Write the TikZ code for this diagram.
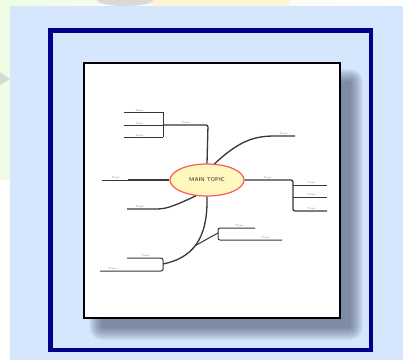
\documentclass[tikz,border=0pt]{standalone}
\usetikzlibrary{shapes.geometric}

\definecolor{paleblue}{RGB}{214,230,252}
\definecolor{palegreen}{RGB}{240,252,228}
\definecolor{paleyellow}{RGB}{255,244,215}
\definecolor{framenavy}{RGB}{0,0,140}
\definecolor{sheetshadow}{RGB}{60,75,100}
\definecolor{topicfill}{RGB}{255,248,190}
\definecolor{topicline}{RGB}{250,90,90}
\definecolor{topictext}{RGB}{90,90,60}
\definecolor{branchgrey}{RGB}{55,55,55}
\definecolor{labelgrey}{RGB}{120,120,120}

\tikzset{
  branch/.style={draw=branchgrey, line width=1.3pt, rounded corners=2pt},
  twig/.style={draw=branchgrey, line width=1pt},
  leaflabel/.style={font=\fontsize{2.6}{3}\selectfont, text=labelgrey, inner sep=0pt, anchor=south},
}

\begin{document}
\begin{tikzpicture}[x=1pt, y=-1pt]
  \useasboundingbox (0,0) rectangle (403,360);
  % page behind the panel
  \fill[white] (0,0) rectangle (403,360);
  \shade[left color=palegreen, right color=white] (0,0) rectangle (403,7);
  \fill[paleyellow] (150,0) rectangle (290,7);
  \fill[gray!30] (97,0) arc[start angle=180, end angle=360, x radius=28, y radius=-6] -- cycle;
  \fill[palegreen] (0,0) rectangle (10,180);
  \fill[gray!30] (0,72) -- (10,79) -- (0,85) -- cycle;
  % panel
  \fill[paleblue] (10,6) rectangle (403,360);
  \draw[framenavy, line width=4.5pt] (50.5,30.5) rectangle (371,350);
  % soft shadow under the sheet, built from stacked rounded layers
  \foreach \r in {0,1,...,13}
    \fill[sheetshadow, opacity=0.055, rounded corners=\r pt]
      (92-\r+10,72-\r+10) rectangle (351+\r-10+9,328+\r-10+9);
  % sheet
  \node[draw=black, line width=2pt, fill=white, minimum width=256pt, minimum height=255pt,
        inner sep=0pt] (sheet) at (212,190) {};

  % central topic
  \node[ellipse, draw=topicline, fill=topicfill, line width=1.2pt, minimum width=74pt, minimum height=32pt,
        inner sep=0pt, font=\fontsize{5.5}{5.5}\sffamily\bfseries\selectfont, text=topictext] (centre) at (207,180) {MAIN TOPIC};

  % junctions
  \coordinate (aTop) at (208,125);
  \coordinate (aJoin) at (163,125);
  \coordinate (bEnd) at (295,136);
  \coordinate (dJoin) at (293,180);
  \coordinate (fJoin) at (218,233);
  \coordinate (gJoin) at (163,264);

  % upper left group
  \draw[branch] (centre.north) -- (aTop) -- (aJoin);
  \draw[twig] (163,112) -- (163,137);
  \foreach \y in {112,125,137}
    \draw[twig] (163,\y) -- (124,\y) node[leaflabel, pos=0.6] {Topic};
  \node[leaflabel] (aLabel) at (186,124) {Topic};

  % upper right
  \draw[branch] (centre.65) .. controls (240,140) and (255,136) .. (277,136) -- (bEnd);
  \node[leaflabel] (bLabel) at (284,135) {Topic};

  % left
  \draw[branch] (centre.west) -- (128,180);
  \draw[twig, line width=0.8pt] (128,180) -- (102,180);
  \node[leaflabel] (cLabel) at (116,179) {Topic};

  % right group
  \draw[branch] (centre.east) -- (dJoin) -- (293,211) -- (327,211);
  \draw[twig] (293,185) -- (327,185);
  \draw[twig] (293,197) -- (327,197);
  \node[leaflabel] (dLabel) at (268,179) {Topic};
  \foreach \y in {185,197,211}
    \node[leaflabel] at (312,\y-1) {Topic};

  % lower left
  \draw[branch] (centre.235) .. controls (178,204) and (168,209) .. (155,209) -- (127,209);
  \node[leaflabel] (eLabel) at (140,208) {Topic};

  % long branch downwards
  \draw[branch] (centre.south) .. controls (208,240) and (192,258) .. (gJoin)
    coordinate[pos=0.52] (fFork);
  \draw[twig] (fFork) -- (fJoin);
  \draw[twig, rounded corners=2pt] (255,228) -- (218,228) -- (218,240) -- (282,240);
  \node[leaflabel] (f1Label) at (240,227) {Topic};
  \node[leaflabel] (f2Label) at (266,239) {Topic};
  \draw[twig, rounded corners=2pt] (127,258) -- (163,258) -- (163,271) -- (100,271);
  \node[leaflabel] (g1Label) at (146,257) {Topic};
  \node[leaflabel] (g2Label) at (113,270) {Topic};
\end{tikzpicture}
\end{document}
